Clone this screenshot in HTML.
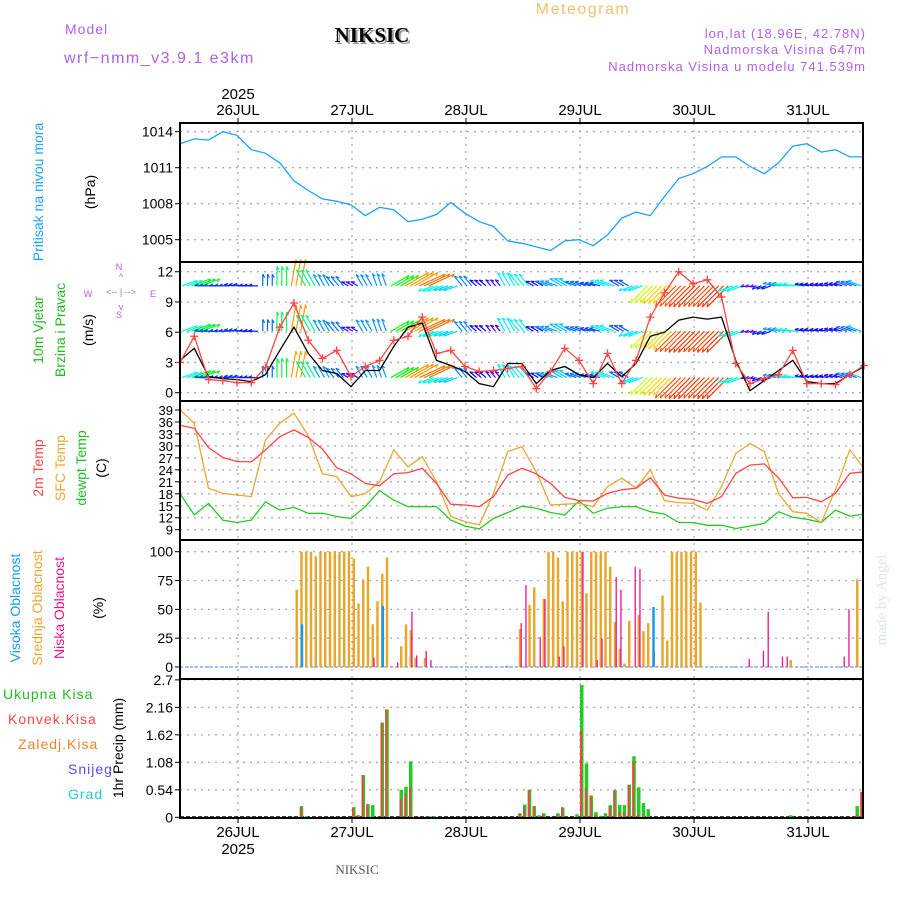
<!DOCTYPE html>
<html><head><meta charset="utf-8"><style>
body{margin:0;background:#fff}
svg{display:block;font-family:"Liberation Sans",sans-serif}
</style></head><body>
<svg id="c" width="900" height="900" viewBox="0 0 900 900"></svg>
<script>
// ---- data (3-hourly from 25JUL 12:00) ----
const dayLabels=["26JUL","27JUL","28JUL","29JUL","30JUL","31JUL"];
const pressure=[1013.0,1013.4,1013.3,1014.0,1013.7,1012.5,1012.2,1011.4,1009.9,1009.1,1008.4,1008.2,1007.9,1007.0,1007.7,1007.5,1006.5,1006.7,1007.1,1008.1,1007.2,1006.5,1006.1,1004.9,1004.7,1004.4,1004.1,1004.9,1005.0,1004.5,1005.4,1006.8,1007.3,1007.0,1008.6,1010.1,1010.5,1011.1,1011.9,1011.9,1011.1,1010.5,1011.4,1012.8,1013.0,1012.3,1012.5,1011.9,1011.9];
const windSpeed=[3.2,4.4,1.6,1.4,1.3,1.1,1.8,4.2,6.5,3.9,2.2,1.9,0.6,2.2,2.2,4.6,6.5,6.9,3.2,2.7,2.1,0.9,0.6,2.9,2.9,0.9,2.2,2.6,1.8,1.5,2.9,1.6,2.9,5.6,6.0,7.2,7.5,7.3,7.5,3.2,0.2,1.2,2.2,3.2,1.1,0.9,0.9,1.8,2.6];
const windGust=[3.0,5.6,1.3,1.2,1.0,1.0,2.5,6.5,8.9,5.2,3.4,4.2,1.6,2.6,3.2,5.2,5.6,7.5,3.9,4.2,2.6,2.1,2.2,2.4,2.6,0.4,2.1,4.4,3.2,0.9,3.9,0.9,3.2,7.5,9.9,12.0,10.8,11.2,9.5,2.9,0.9,1.4,1.8,4.2,0.9,0.9,0.8,1.8,2.7];
const windDir=[20,20,180,180,175,180,90,90,80,120,120,130,150,120,110,30,30,25,200,200,130,140,130,120,130,150,160,150,160,165,160,150,200,225,225,225,225,225,225,200,190,200,170,175,170,170,165,160,160];
const temp2m=[35.2,34.4,29.6,27.1,26.1,26.0,29.0,32.3,34.0,32.1,29.2,24.5,23.0,20.6,20.0,23.0,23.3,24.4,20.6,15.4,15.2,14.8,17.3,22.7,24.4,23.0,20.6,17.1,16.3,16.2,18.1,19.0,19.4,22.0,17.7,16.9,16.6,15.6,17.3,23.1,25.2,25.5,22.0,17.0,17.1,16.0,18.1,23.1,23.5];
const tempSfc=[39.0,35.7,19.4,18.1,17.7,17.3,31.5,35.7,38.2,32.5,23.0,22.3,17.3,18.0,21.0,29.0,24.8,27.3,21.0,12.3,11.0,10.2,18.1,28.6,29.8,23.5,15.2,15.4,15.6,14.8,19.8,21.9,19.4,24.0,16.3,15.8,15.6,13.9,19.8,28.1,30.6,28.6,18.1,13.5,13.1,10.8,19.0,29.0,24.4];
const dewpt=[18.0,12.7,15.6,11.4,10.8,11.4,16.0,13.9,14.6,13.1,13.1,12.3,11.8,14.8,18.8,16.4,14.8,14.8,14.8,11.4,9.9,9.2,11.8,13.3,14.9,14.4,13.3,12.7,16.2,13.1,14.4,14.8,14.8,13.5,12.9,10.8,10.8,10.1,10.1,9.3,9.9,10.6,13.5,12.1,11.6,10.8,13.9,12.4,12.9];
// ---- hourly data (144 hours from 25JUL 12:00) ----
const cloudHigh=[0,0,0,0,0,0,0,0,0,0,0,0,0,0,0,0,0,0,0,0,0,0,0,0,0,37,0,0,0,0,0,0,0,0,0,0,0,0,0,0,0,0,53,0,0,0,0,0,0,0,0,0,0,0,0,0,0,0,0,0,0,0,0,0,0,0,0,0,0,0,0,0,0,0,0,0,0,0,0,0,0,0,0,0,0,0,0,0,0,0,0,0,0,0,0,0,0,0,0,52,0,0,0,0,0,0,0,0,0,0,0,0,0,0,0,0,0,0,0,0,0,0,0,0,0,0,0,0,0,0,0,0,0,0,0,0,0,0,0,0,0,0,0,0];
const cloudMid=[0,0,0,0,0,0,0,0,0,0,0,0,0,0,0,0,0,0,0,0,0,0,0,0,67,100,100,100,96,100,100,100,100,100,100,100,94,55,76,87,37,57,81,95,1,0,18,37,32,8,0,8,0,0,0,0,0,0,0,0,0,0,0,0,0,0,0,0,0,0,0,33,0,54,69,0,59,100,100,95,57,100,100,100,100,64,100,100,100,100,87,39,16,3,40,0,45,31,38,0,1,62,23,100,100,100,100,100,100,56,0,0,0,0,0,0,0,0,0,0,0,0,0,0,0,0,0,0,6,0,0,0,0,0,0,0,0,0,0,0,0,0,76];
const cloudLow=[0,0,0,0,0,0,0,0,0,0,0,0,0,0,0,0,0,0,0,0,0,0,0,0,0,0,0,0,0,0,0,0,0,0,0,0,0,0,0,0,8,0,0,0,0,4,0,0,48,10,0,14,6,0,0,0,0,0,0,0,0,0,0,0,0,0,0,0,1,0,0,38,71,0,0,26,59,0,0,9,18,0,0,0,100,0,0,6,25,0,0,78,67,0,0,87,85,0,0,13,0,0,0,0,0,0,0,0,0,0,0,0,0,0,0,0,0,0,0,7,0,0,14,48,0,0,9,9,0,0,0,0,0,0,0,0,0,0,0,9,50,0];
const precipTotal=[0,0,0,0,0,0,0,0,0,0,0,0,0,0,0,0,0,0,0,0,0,0,0,0,0,0.22,0.02,0,0,0,0,0,0,0,0,0,0.2,0.04,0.83,0.26,0.24,0,1.86,2.12,0,0,0.54,0.6,1.1,0,0,0,0.02,0.02,0,0,0,0,0,0,0,0,0,0,0,0,0,0,0,0,0,0.08,0.25,0.54,0.22,0.04,0.08,0,0,0.08,0.19,0.01,0,0.06,2.6,1.06,0.43,0.1,0.03,0.08,0.24,0.53,0.24,0.24,0.64,1.2,0.59,0.28,0.16,0,0,0,0,0,0,0,0,0,0,0,0,0,0,0,0,0,0,0,0,0,0,0,0,0,0,0,0,0,0.04,0,0,0,0,0,0,0,0,0,0,0,0,0,0.22,0.5];
const precipConv=[0,0,0,0,0,0,0,0,0,0,0,0,0,0,0,0,0,0,0,0,0,0,0,0,0,0.2,0,0,0,0,0,0,0,0,0,0,0.18,0.04,0.83,0.26,0,0,1.86,2.12,0,0,0.36,0.47,0.6,0,0,0,0,0,0,0,0,0,0,0,0,0,0,0,0,0,0,0,0,0,0,0.06,0.2,0.54,0.22,0,0.05,0,0,0.06,0.2,0,0,0,1.7,0.58,0.43,0.05,0.02,0,0.2,0.53,0.1,0.1,0.64,1.1,0.05,0.05,0.02,0,0,0,0,0,0,0,0,0,0,0,0,0,0,0,0,0,0,0,0,0,0,0,0,0,0,0,0,0,0,0,0,0,0,0,0,0,0,0,0,0,0,0,0.05,0.5];
const pTicks=[1005,1008,1011,1014];
const wTicks=[0,3,6,9,12];
const tTicks=[9,12,15,18,21,24,27,30,33,36,39];
const cTicks=[0,25,50,75,100];
const prTicks=[0,0.54,1.08,1.62,2.16,2.7];

const NS="http://www.w3.org/2000/svg";
const svg=document.getElementById('c');
function el(tag,attrs,parent){const e=document.createElementNS(NS,tag);for(const k in attrs)e.setAttribute(k,attrs[k]);(parent||svg).appendChild(e);return e;}
function txt(s,x,y,attrs,name){const t=el('text',Object.assign({x:x,y:y},attrs||{}));t.textContent=s;


return t;}
const X0=180,X1=863;
const x3=k=>X0+k*14.25;
const xh=h=>X0+h*4.75;
const panels=[[123,262],[262,401],[401,540],[540,679],[679,818]];
const scP=p=>131.7+(1014-p)*12.0;
const scW=v=>392.7-v*10.08;
const scT=t=>410+(39-t)*3.99;
const scC=c=>667-c*1.153;
const scR=r=>817.3-r*50.9;

// grid
const g=el('g',{});


for(let d=0;d<6;d++){const x=238+d*114;
 el('line',{x1:x,x2:x,y1:123,y2:818,stroke:'#aaa','stroke-dasharray':'2,5','stroke-width':1.3},g);}
function hgrid(ticks,sc,labels,name){ticks.forEach(v=>{const y=sc(v);
 el('line',{x1:X0,x2:X1,y1:y,y2:y,stroke:'#aaa','stroke-dasharray':'2,5','stroke-width':1.3},g);
 el('line',{x1:X0-5,x2:X0,y1:y,y2:y,stroke:'#000'});
 if(labels)txt(String(v),X0-7,y+5,{'text-anchor':'end','font-size':14},name);});}
hgrid(pTicks,scP,true,'pressure-tick-label');
hgrid(wTicks,scW,true,'wind-tick-label');
tTicks.forEach(v=>{const y=scT(v);el('line',{x1:X0,x2:X1,y1:y,y2:y,stroke:'#aaa','stroke-dasharray':'2,5','stroke-width':1.3},g);
 el('line',{x1:X0-5,x2:X0,y1:y,y2:y,stroke:'#000'});
 txt(String(v),X0-7,y+5,{'text-anchor':'end','font-size':13},'temp-tick-label');});
hgrid(cTicks,scC,true,'cloud-tick-label');
hgrid(prTicks,scR,true,'precip-tick-label');

function line(data,sc,color,name,w){const pts=data.map((v,k)=>x3(k).toFixed(1)+','+sc(v).toFixed(1)).join(' ');
 const p=el('polyline',{points:pts,fill:'none',stroke:color,'stroke-width':w||1.3});
 
 }
line(pressure,scP,'#1aa3ff','pressure-line');

// wind arrows
function hueFor(s){return s<2?270-s*30:s<4?210-(s-2)*30:s<6?150-(s-4)*50:s<8?50-(s-6)*25:330;}
const wg=el('g',{});


[scW(10.6),scW(6.1),scW(1.5)].forEach(y0=>{
 for(let h=0;h<144;h++){const k=Math.min(48,Math.round(h/3));const s=windSpeed[k];const a=windDir[k]*Math.PI/180;
  const L=6+s*3.2;const x=xh(h)+2,x2=x+L*Math.cos(a),y2=y0-L*Math.sin(a);
  const col='hsl('+hueFor(s)+',95%,50%)';
  el('line',{x1:x,y1:y0,x2:x2,y2:y2,stroke:col,'stroke-width':1.2},wg);
  const ha=a+Math.PI;el('line',{x1:x2,y1:y2,x2:x2+4*Math.cos(ha+0.5),y2:y2-4*Math.sin(ha+0.5),stroke:col,'stroke-width':1.2},wg);
 }});
line(windSpeed,scW,'#000','wind-speed-line');
line(windGust,scW,'#ff4444','wind-gust-line');
windGust.forEach((v,k)=>{const x=x3(k),y=scW(v);
 const m=el('path',{d:`M${x-4},${y}h8M${x},${y-4}v8`,stroke:'#ff4444','stroke-width':1.3});
 
 });

line(dewpt,scT,'#22cc22','dewpt-line');
line(tempSfc,scT,'#e8a830','sfc-temp-line');
line(temp2m,scT,'#ff4444','temp-2m-line');

// clouds
el('line',{x1:X0,x2:X1,y1:scC(0),y2:scC(0),stroke:'#88aaff','stroke-width':1.5,'stroke-dasharray':'3,2'});
cloudMid.forEach((v,h)=>{if(v>0){const b=el('rect',{x:xh(h)+1.5,y:scC(v),width:2.5,height:scC(0)-scC(v),fill:'#e8a830'});
 
 }});
cloudLow.forEach((v,h)=>{if(v>0){const b=el('rect',{x:xh(h)+3.3,y:scC(v),width:1.3,height:scC(0)-scC(v),fill:'#ee1188'});
 
 }});
cloudHigh.forEach((v,h)=>{if(v>0){const b=el('rect',{x:xh(h)+2,y:scC(v),width:2.5,height:scC(0)-scC(v),fill:'#1a9be8'});
 
 }});

// precip
el('line',{x1:X0,x2:X1,y1:817,y2:817,stroke:'#000','stroke-width':1.5,'stroke-dasharray':'4,2'});
precipTotal.forEach((v,h)=>{if(v>0){const b=el('rect',{x:xh(h)+1,y:scR(v),width:3.5,height:scR(0)-scR(v),fill:'#22cc22'});
 
 }});
precipConv.forEach((v,h)=>{if(v>0){const b=el('rect',{x:xh(h)+1,y:scR(v),width:2,height:scR(0)-scR(v),fill:'#ee4444'});
 
 }});

// frames
panels.forEach(p=>{el('rect',{x:X0,y:p[0],width:X1-X0,height:p[1]-p[0],fill:'none',stroke:'#000','stroke-width':2});});

// day labels
dayLabels.forEach((d,i)=>{const x=238+i*114;
 el('line',{x1:x,x2:x,y1:118,y2:123,stroke:'#000'});el('line',{x1:x,x2:x,y1:818,y2:823,stroke:'#000'});
 txt(d,x,115,{'text-anchor':'middle','font-size':15},'top-day-label');
 txt(d,x,837,{'text-anchor':'middle','font-size':15},'bottom-day-label');});
txt('2025',238,99,{'text-anchor':'middle','font-size':15},'top-year-label');
txt('2025',238,854,{'text-anchor':'middle','font-size':15},'bottom-year-label');
</script>
<svg width="900" height="900" style="position:absolute;left:0;top:0;font-family:'Liberation Sans',sans-serif">
<text x="65" y="34" font-size="14" fill="#b060e8" letter-spacing="1">Model</text>
<text x="64" y="63" font-size="16" fill="#b060e8" letter-spacing="1.5">wrf−nmm_v3.9.1 e3km</text>
<text x="374" y="44" font-size="21" font-weight="bold" font-family="Liberation Serif,serif" fill="#999" text-anchor="middle">NIKSIC</text>
<text x="372" y="42" font-size="21" font-weight="bold" font-family="Liberation Serif,serif" fill="#000" text-anchor="middle">NIKSIC</text>
<text x="583" y="14" font-size="16" fill="#f0c070" text-anchor="middle" letter-spacing="1.5">Meteogram</text>
<text x="866" y="38" font-size="13" fill="#b060e8" text-anchor="end" letter-spacing="1">lon,lat (18.96E, 42.78N)</text>
<text x="866" y="54" font-size="13" fill="#b060e8" text-anchor="end" letter-spacing="1">Nadmorska Visina 647m</text>
<text x="866" y="71" font-size="13" fill="#b060e8" text-anchor="end" letter-spacing="1">Nadmorska Visina u modelu 741.539m</text>
<g font-size="14">
<text transform="translate(43,192) rotate(-90)" text-anchor="middle" fill="#1aa3ff">Pritisak na nivou mora</text>
<text transform="translate(95,192) rotate(-90)" text-anchor="middle" fill="#000">(hPa)</text>
<text transform="translate(43,330) rotate(-90)" text-anchor="middle" fill="#22bb22">10m Vjetar</text>
<text transform="translate(65,330) rotate(-90)" text-anchor="middle" fill="#22bb22">Brzina i Pravac</text>
<text transform="translate(93,330) rotate(-90)" text-anchor="middle" fill="#000">(m/s)</text>
<text transform="translate(43,468) rotate(-90)" text-anchor="middle" fill="#ff4444">2m Temp</text>
<text transform="translate(65,468) rotate(-90)" text-anchor="middle" fill="#e8a830">SFC Temp</text>
<text transform="translate(86,468) rotate(-90)" text-anchor="middle" fill="#22bb22">dewpt Temp</text>
<text transform="translate(106,468) rotate(-90)" text-anchor="middle" fill="#000">(C)</text>
<text transform="translate(20,608) rotate(-90)" text-anchor="middle" fill="#1a9be8">Visoka Oblacnost</text>
<text transform="translate(42,608) rotate(-90)" text-anchor="middle" fill="#e8a830">Srednja Oblacnost</text>
<text transform="translate(64,608) rotate(-90)" text-anchor="middle" fill="#ee1188">Niska Oblacnost</text>
<text transform="translate(103,608) rotate(-90)" text-anchor="middle" fill="#000">(%)</text>
<text transform="translate(123,748) rotate(-90)" text-anchor="middle" fill="#000">1hr Precip (mm)</text>
<text x="3" y="699" fill="#22bb22" letter-spacing="1">Ukupna Kisa</text>
<text x="8" y="724" fill="#ff4444" letter-spacing="1">Konvek.Kisa</text>
<text x="18" y="749" fill="#f08030" letter-spacing="1">Zaledj.Kisa</text>
<text x="68" y="774" fill="#5050ee" letter-spacing="1">Snijeg</text>
<text x="68" y="799" fill="#22cccc" letter-spacing="1">Grad</text>
</g>
<g fill="#b060e8" font-size="9">
<text x="119" y="270" text-anchor="middle">N</text><text x="119" y="318" text-anchor="middle">S</text>
<text x="88" y="297" text-anchor="middle">W</text><text x="153" y="297" text-anchor="middle">E</text>
<text x="121" y="295" text-anchor="middle">&lt;-- | --&gt;</text>
<text x="121" y="280" text-anchor="middle">^</text><text x="121" y="310" text-anchor="middle">v</text>
</g>
<text x="357" y="874" font-size="13" font-family="Liberation Serif,serif" fill="#555" text-anchor="middle">NIKSIC</text>
<text transform="translate(886,600) rotate(-90)" font-size="15" font-family="Liberation Serif,serif" fill="#dde8dd" text-anchor="middle">made by Angel</text>
</svg>
</body></html>
